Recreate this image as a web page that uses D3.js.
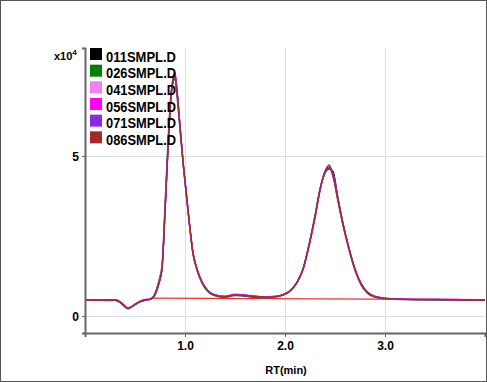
<!DOCTYPE html>
<html><head><meta charset="utf-8">
<script src="https://cdn.jsdelivr.net/npm/d3@7"></script>
<style>body{margin:0;background:#fff}svg{display:block}text{font-family:"Liberation Sans",Arial,sans-serif;font-weight:bold}</style>
</head><body>
<svg id="c" width="487" height="382"></svg>
<script>
const rt = [0.00,0.10,0.20,0.30,0.36,0.40,0.43,0.46,0.50,0.55,0.60,0.65,0.68,0.71,0.74,0.77,0.80,0.83,0.86,0.88,0.90,0.92,0.95,0.98,1.01,1.04,1.08,1.12,1.17,1.23,1.30,1.40,1.50,1.60,1.70,1.80,1.90,1.98,2.05,2.12,2.18,2.24,2.30,2.35,2.40,2.44,2.48,2.53,2.58,2.64,2.70,2.76,2.82,2.90,3.00,3.20,3.40,3.60,3.80,4.00];
const s011 = [0.50,0.49,0.50,0.50,0.41,0.29,0.23,0.28,0.36,0.46,0.50,0.52,0.57,0.74,1.04,1.48,3.25,5.25,6.85,7.32,7.48,7.02,5.95,4.85,3.92,3.02,1.98,1.47,1.06,0.78,0.65,0.61,0.66,0.63,0.61,0.60,0.61,0.67,0.79,1.05,1.46,2.20,3.10,3.93,4.47,4.60,4.52,3.68,2.90,2.12,1.47,1.02,0.76,0.61,0.55,0.52,0.52,0.51,0.51,0.50];
const s026 = [0.49,0.51,0.48,0.49,0.40,0.28,0.22,0.27,0.35,0.44,0.49,0.53,0.60,0.80,1.12,1.60,3.50,5.50,6.95,7.30,7.40,6.85,5.80,4.75,3.85,2.95,1.92,1.42,1.02,0.76,0.63,0.58,0.64,0.62,0.58,0.57,0.59,0.65,0.77,1.06,1.48,2.24,3.15,3.98,4.48,4.62,4.36,3.58,2.82,2.06,1.42,0.97,0.72,0.58,0.54,0.51,0.50,0.50,0.49,0.49];
const s041 = [0.51,0.50,0.50,0.51,0.43,0.31,0.25,0.29,0.37,0.46,0.51,0.52,0.58,0.75,1.05,1.50,3.28,5.28,6.90,7.40,7.55,7.05,5.92,4.82,3.92,3.00,1.96,1.46,1.05,0.79,0.66,0.61,0.67,0.65,0.62,0.60,0.61,0.66,0.78,1.04,1.44,2.18,3.08,3.94,4.52,4.66,4.42,3.62,2.86,2.10,1.45,1.00,0.75,0.60,0.55,0.53,0.51,0.52,0.51,0.50];
const s056 = [0.52,0.50,0.51,0.51,0.43,0.31,0.25,0.29,0.37,0.46,0.52,0.53,0.58,0.74,1.03,1.46,3.22,5.22,6.88,7.45,7.62,7.10,5.95,4.84,3.93,3.02,1.97,1.46,1.06,0.79,0.66,0.62,0.68,0.66,0.62,0.60,0.61,0.66,0.78,1.04,1.44,2.18,3.06,3.92,4.52,4.70,4.42,3.62,2.86,2.12,1.46,1.01,0.76,0.61,0.56,0.53,0.52,0.52,0.51,0.51];
const s071 = [0.50,0.51,0.50,0.50,0.42,0.30,0.24,0.28,0.36,0.45,0.50,0.52,0.58,0.75,1.05,1.50,3.30,5.30,6.90,7.38,7.52,7.02,5.92,4.82,3.90,3.00,1.95,1.45,1.05,0.78,0.65,0.60,0.66,0.64,0.61,0.59,0.60,0.66,0.78,1.05,1.46,2.22,3.12,3.96,4.52,4.64,4.48,3.66,2.88,2.10,1.44,0.99,0.74,0.60,0.55,0.52,0.51,0.51,0.50,0.50];
const s086 = [0.50,0.50,0.49,0.50,0.42,0.30,0.24,0.28,0.36,0.45,0.50,0.52,0.57,0.73,1.02,1.45,3.20,5.20,6.85,7.35,7.50,7.00,5.92,4.84,3.94,3.04,1.98,1.47,1.06,0.78,0.65,0.60,0.65,0.64,0.61,0.59,0.60,0.66,0.78,1.05,1.45,2.20,3.10,3.95,4.50,4.72,4.38,3.60,2.86,2.10,1.46,1.01,0.75,0.60,0.55,0.52,0.51,0.51,0.50,0.50];
const seriesNames = ["011SMPL.D","026SMPL.D","041SMPL.D","056SMPL.D","071SMPL.D","086SMPL.D"];
const seriesColors = ["#000000","#008000","#ee82ee","#ff00ff","#8a2be2","#a52a2a"];
const baselineRT = [0.66, 4.0];
const baselineVal = [0.56, 0.51];
const xTicks = [1, 2, 3];
const xTickLabels = ["1.0","2.0","3.0"];
const yTicks = [0, 5];
const yTickLabels = ["0","5"];

const allSeries = [s011,s026,s041,s056,s071,s086];
const svg = d3.select("#c");
const L=85, R=485, T=48, B=333;
const x = d3.scaleLinear().domain([0,4]).range([L,R]);
const y = d3.scaleLinear().domain([-0.53125, 8.375]).range([B,T]);

svg.append("rect").attr("x",0.5).attr("y",0.5).attr("width",486).attr("height",381)
  .attr("fill","none").attr("stroke","#555");

svg.append("g").selectAll("line").data(xTicks).join("line")
  .attr("x1",d=>x(d)+0.5).attr("x2",d=>x(d)+0.5).attr("y1",T).attr("y2",B)
  .attr("stroke","#dedede").attr("stroke-width",1);
svg.append("g").selectAll("line").data(yTicks).join("line")
  .attr("x1",L).attr("x2",R).attr("y1",d=>y(d)+0.5).attr("y2",d=>y(d)+0.5)
  .attr("stroke","#dedede").attr("stroke-width",1);

svg.append("defs").append("clipPath").attr("id","clip").append("rect")
  .attr("x",L).attr("y",T).attr("width",R-L).attr("height",B-T);

const plot = svg.append("g").attr("clip-path","url(#clip)");
plot.append("line").attr("x1",x(baselineRT[0])).attr("x2",x(baselineRT[1]))
  .attr("y1",y(baselineVal[0])).attr("y2",y(baselineVal[1]))
  .attr("stroke","#f03030").attr("stroke-width",1.2);

const line = d3.line().x((d,i)=>x(rt[i])).y(d=>y(d)).curve(d3.curveMonotoneX);
const order = [0,1,2,3,4,5];
order.forEach(k=>{
  plot.append("path").attr("d",line(allSeries[k])).attr("fill","none")
    .attr("stroke",seriesColors[k]).attr("stroke-width",1.3);
});

const xa = svg.append("g").attr("transform",`translate(0,${B})`)
  .call(d3.axisBottom(x).tickValues(xTicks).tickFormat((d,i)=>xTickLabels[i]).tickSize(4).tickPadding(2));
const ya = svg.append("g").attr("transform",`translate(${L},0)`)
  .call(d3.axisLeft(y).tickValues(yTicks).tickFormat((d,i)=>yTickLabels[i]).tickSize(3).tickPadding(3));
[xa,ya].forEach(a=>{
  a.select(".domain").attr("stroke","#666").attr("stroke-width",2);
  a.selectAll(".tick line").attr("stroke","#666");
  a.selectAll(".tick text").attr("fill","#000").style("font-size","12px").style("font-family","Liberation Sans, Arial").style("font-weight","bold");
});
xa.selectAll(".tick text").attr("dy","0.9em");
ya.selectAll(".tick text").attr("dy","0.35em");

const mt = svg.append("text").attr("x",54).attr("y",60).style("font-size","11px");
mt.append("tspan").text("x10");
mt.append("tspan").attr("dy",-5).style("font-size","8px").text("4");

svg.append("text").attr("x",286).attr("y",374).attr("text-anchor","middle")
  .style("font-size","11px").text("RT(min)");

const lg = svg.append("g");
seriesNames.forEach((n,i)=>{
  const ty = 48 + i*16.67;
  lg.append("rect").attr("x",90).attr("y",ty).attr("width",12).attr("height",12).attr("fill",seriesColors[i]);
  lg.append("text").attr("x",106).attr("y",ty+13.5).style("font-size","15px")
    .attr("textLength",70).attr("lengthAdjust","spacingAndGlyphs").text(n);
});
</script>
</body></html>
